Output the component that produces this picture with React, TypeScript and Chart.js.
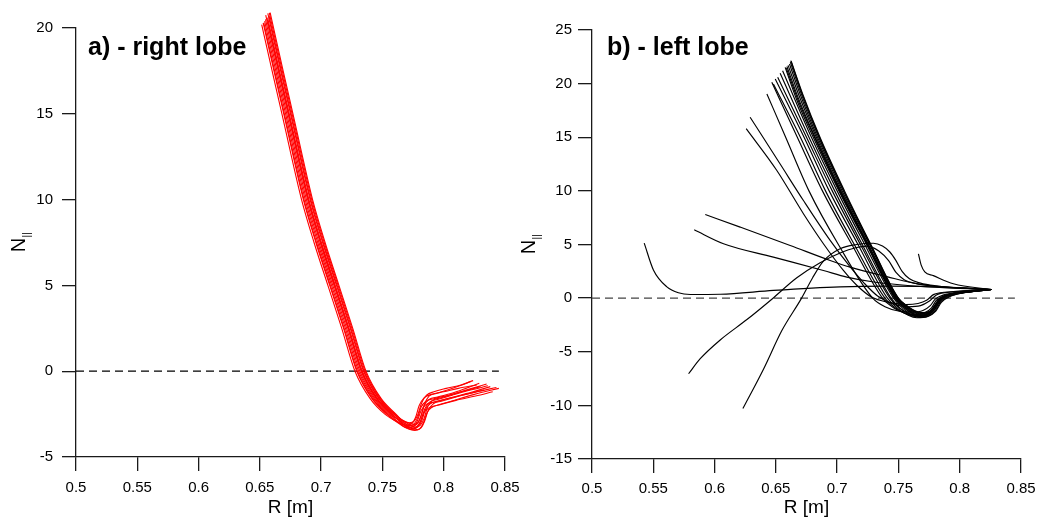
import React, { useEffect, useRef } from 'react';
import { Chart, registerables } from 'chart.js';

Chart.register(...registerables);

type Pt = [number, number];

// ---------- ticks ----------
const xTickValues = [0.5, 0.55, 0.6, 0.65, 0.7, 0.75, 0.8, 0.85];
const xTickLabels = ['0.5', '0.55', '0.6', '0.65', '0.7', '0.75', '0.8', '0.85'];
const leftYTickValues = [-5, 0, 5, 10, 15, 20];
const rightYTickValues = [-15, -10, -5, 0, 5, 10, 15, 20, 25];
const zeroLine: Pt[] = [[0.5, 0], [0.845, 0]];

// ---------- panel a) right lobe (red rays) ----------
const red01: Pt[] = [[0.6515,20.2],[0.660,17.5],[0.668,15],[0.6758,12.5],[0.684,10],[0.6942,7.5],[0.7055,5],[0.7168,2.5],[0.7276,0],[0.740,-1.6],[0.752,-2.5],[0.762,-2.95],[0.769,-3.15],[0.774,-3.05],[0.777,-2.7],[0.780,-2.0],[0.784,-1.55],[0.790,-1.35],[0.800,-1.2],[0.812,-1.0],[0.827,-0.8]];
const red02: Pt[] = [[0.6527,20.3],[0.6615,17.5],[0.6695,15],[0.6773,12.5],[0.6855,10],[0.6957,7.5],[0.707,5],[0.7183,2.5],[0.7291,0],[0.7415,-1.6],[0.7535,-2.5],[0.7635,-3.05],[0.7705,-3.3],[0.7755,-3.2],[0.7785,-2.9],[0.7815,-2.3],[0.7855,-1.95],[0.792,-1.8],[0.803,-1.6],[0.818,-1.35],[0.833,-1.1]];
const red03: Pt[] = [[0.6539,20.4],[0.663,17.5],[0.671,15],[0.6788,12.5],[0.687,10],[0.6972,7.5],[0.7085,5],[0.7198,2.5],[0.7306,0],[0.743,-1.6],[0.755,-2.5],[0.765,-2.85],[0.772,-3.0],[0.776,-2.9],[0.779,-2.5],[0.782,-1.85],[0.786,-1.4],[0.792,-1.2],[0.802,-1.0],[0.814,-0.8],[0.824,-0.55]];
const red04: Pt[] = [[0.6546,20.5],[0.664,17.5],[0.672,15],[0.6798,12.5],[0.688,10],[0.6982,7.5],[0.7095,5],[0.7208,2.5],[0.7316,0],[0.744,-1.6],[0.756,-2.5],[0.766,-3.15],[0.773,-3.4],[0.7775,-3.3],[0.7805,-3.0],[0.7835,-2.45],[0.7875,-2.15],[0.794,-2.0],[0.806,-1.75],[0.825,-1.35],[0.845,-1.0]];
const red05: Pt[] = [[0.6548,20.75],[0.665,17.5],[0.673,15],[0.6808,12.5],[0.689,10],[0.6992,7.5],[0.7105,5],[0.7218,2.5],[0.7326,0],[0.745,-1.6],[0.757,-2.5],[0.767,-3.0],[0.774,-3.2],[0.778,-3.1],[0.781,-2.7],[0.784,-2.0],[0.788,-1.65],[0.795,-1.5],[0.806,-1.3],[0.818,-1.0],[0.829,-0.7]];
const red06: Pt[] = [[0.6563,20.6],[0.666,17.5],[0.674,15],[0.6818,12.5],[0.690,10],[0.7002,7.5],[0.7115,5],[0.7228,2.5],[0.7336,0],[0.746,-1.6],[0.758,-2.5],[0.768,-3.15],[0.775,-3.35],[0.779,-3.25],[0.782,-2.9],[0.785,-2.25],[0.789,-1.9],[0.796,-1.75],[0.808,-1.5],[0.824,-1.2],[0.838,-0.9]];
const red07: Pt[] = [[0.6565,20.85],[0.667,17.5],[0.675,15],[0.6828,12.5],[0.691,10],[0.7012,7.5],[0.7125,5],[0.7238,2.5],[0.7346,0],[0.747,-1.6],[0.759,-2.5],[0.769,-2.95],[0.776,-3.1],[0.779,-3.0],[0.7815,-2.6],[0.7845,-1.9],[0.788,-1.45],[0.794,-1.3],[0.803,-1.1],[0.813,-0.85],[0.822,-0.6]];
const red08: Pt[] = [[0.6575,20.7],[0.6675,17.5],[0.6755,15],[0.6833,12.5],[0.6915,10],[0.7017,7.5],[0.713,5],[0.7243,2.5],[0.7351,0],[0.7475,-1.6],[0.7595,-2.5],[0.7695,-3.25],[0.7765,-3.45],[0.7805,-3.35],[0.7835,-3.0],[0.7865,-2.4],[0.7905,-2.1],[0.797,-1.95],[0.810,-1.7],[0.826,-1.45],[0.840,-1.2]];
const red09: Pt[] = [[0.6577,20.88],[0.6683,17.5],[0.6763,15],[0.6841,12.5],[0.6923,10],[0.7025,7.5],[0.7138,5],[0.7251,2.5],[0.7359,0],[0.7483,-1.6],[0.7603,-2.5],[0.7703,-3.05],[0.7773,-3.25],[0.781,-3.15],[0.784,-2.75],[0.787,-2.05],[0.791,-1.7],[0.798,-1.55],[0.809,-1.3],[0.823,-1.0],[0.835,-0.75]];
const red10: Pt[] = [[0.6584,20.9],[0.669,17.5],[0.677,15],[0.6848,12.5],[0.693,10],[0.7032,7.5],[0.7145,5],[0.7258,2.5],[0.7366,0],[0.749,-1.6],[0.761,-2.5],[0.771,-3.2],[0.778,-3.4],[0.7815,-3.3],[0.7845,-2.9],[0.7875,-2.25],[0.7915,-1.9],[0.798,-1.75],[0.810,-1.5],[0.827,-1.2],[0.843,-0.95]];
const red11: Pt[] = [[0.6532,20.3],[0.662,17.5],[0.670,15],[0.6778,12.5],[0.686,10],[0.6962,7.5],[0.7075,5],[0.7188,2.5],[0.7296,0],[0.742,-1.6],[0.754,-2.5],[0.764,-3.0],[0.771,-3.2],[0.7755,-3.1],[0.7785,-2.75],[0.7815,-2.1],[0.7855,-1.75],[0.792,-1.6],[0.804,-1.4],[0.817,-1.15],[0.830,-0.9]];
const red12: Pt[] = [[0.6561,20.5],[0.6655,17.5],[0.6735,15],[0.6813,12.5],[0.6895,10],[0.6997,7.5],[0.711,5],[0.7223,2.5],[0.7331,0],[0.7455,-1.6],[0.7575,-2.5],[0.7675,-3.1],[0.7745,-3.3],[0.7785,-3.2],[0.7815,-2.85],[0.7845,-2.2],[0.7885,-1.8],[0.795,-1.65],[0.807,-1.4],[0.822,-1.1],[0.836,-0.85]];
const rightLobeRays = [red01, red02, red03, red04, red05, red06, red07, red08, red09, red10, red11, red12];

// ---------- panel b) left lobe (black rays) ----------
const blk01: Pt[] = [[0.6625,22.1],[0.672,19],[0.686,15],[0.706,10],[0.7275,5],[0.750,0],[0.758,-0.8],[0.764,-1.2],[0.770,-1.35],[0.776,-1.2],[0.780,-0.7],[0.784,-0.05],[0.790,0.3],[0.805,0.6],[0.826,0.8]];
const blk02: Pt[] = [[0.6611,21.83],[0.6705,18.8],[0.684,15],[0.704,10],[0.7265,5],[0.749,0],[0.757,-0.85],[0.763,-1.3],[0.769,-1.5],[0.775,-1.35],[0.7795,-0.8],[0.7835,-0.1],[0.790,0.3],[0.805,0.6],[0.826,0.8]];
const blk03: Pt[] = [[0.659,21.6],[0.6685,18.6],[0.682,15],[0.7025,10],[0.725,5],[0.748,0],[0.756,-0.9],[0.762,-1.4],[0.768,-1.6],[0.7745,-1.45],[0.779,-0.9],[0.783,-0.2],[0.789,0.25],[0.805,0.58],[0.826,0.8]];
const blk04: Pt[] = [[0.6576,21.52],[0.667,18.5],[0.6805,15],[0.7015,10],[0.724,5],[0.747,0],[0.755,-0.95],[0.762,-1.5],[0.768,-1.7],[0.775,-1.55],[0.780,-1.0],[0.784,-0.3],[0.790,0.2],[0.805,0.55],[0.826,0.8]];
const blk05: Pt[] = [[0.6555,21.2],[0.679,15],[0.700,10],[0.7225,5],[0.746,0],[0.754,-1.0],[0.761,-1.55],[0.767,-1.8],[0.775,-1.65],[0.7805,-1.1],[0.7845,-0.35],[0.791,0.15],[0.806,0.55],[0.826,0.8]];
const blk06: Pt[] = [[0.6535,20.96],[0.677,15],[0.698,10],[0.7205,5],[0.744,0],[0.752,-1.0],[0.760,-1.55],[0.766,-1.75],[0.774,-1.6],[0.7795,-1.05],[0.7835,-0.3],[0.790,0.2],[0.805,0.55],[0.826,0.8]];
const blk07: Pt[] = [[0.6515,20.6],[0.675,15],[0.696,10],[0.719,5],[0.743,0],[0.751,-0.95],[0.759,-1.45],[0.766,-1.65],[0.773,-1.5],[0.778,-0.95],[0.782,-0.25],[0.789,0.25],[0.805,0.6],[0.826,0.8]];
const blk08: Pt[] = [[0.6495,20.43],[0.673,15],[0.6935,10],[0.717,5],[0.741,0],[0.750,-1.0],[0.758,-1.6],[0.765,-1.83],[0.774,-1.7],[0.7805,-1.2],[0.785,-0.4],[0.792,0.15],[0.806,0.55],[0.826,0.8]];
const blk09: Pt[] = [[0.648,19.97],[0.670,15],[0.6905,10],[0.714,5],[0.739,0],[0.748,-0.95],[0.757,-1.5],[0.764,-1.7],[0.772,-1.55],[0.778,-1.0],[0.782,-0.3],[0.789,0.2],[0.805,0.55],[0.826,0.8]];
const blk10: Pt[] = [[0.6467,20.12],[0.6675,15],[0.688,10],[0.712,5],[0.737,0],[0.746,-0.9],[0.755,-1.4],[0.763,-1.55],[0.771,-1.4],[0.777,-0.9],[0.781,-0.2],[0.788,0.25],[0.805,0.6],[0.826,0.8]];
const blk11: Pt[] = [[0.6427,19.04],[0.658,15],[0.677,10],[0.701,5],[0.729,0],[0.739,-0.8],[0.750,-1.2],[0.761,-1.3],[0.770,-1.15],[0.776,-0.7],[0.780,-0.1],[0.787,0.3],[0.805,0.6],[0.826,0.8]];
const blk12: Pt[] = [[0.6618,22.0],[0.6712,18.9],[0.685,15],[0.705,10],[0.727,5],[0.7495,0],[0.7575,-0.85],[0.7635,-1.25],[0.7695,-1.45],[0.7755,-1.3],[0.7795,-0.75],[0.7835,-0.1],[0.790,0.3],[0.805,0.6],[0.826,0.8]];
const blk13: Pt[] = [[0.660,21.7],[0.6695,18.7],[0.683,15],[0.703,10],[0.7255,5],[0.7485,0],[0.7565,-0.9],[0.7625,-1.35],[0.7685,-1.55],[0.775,-1.4],[0.7795,-0.85],[0.7835,-0.15],[0.790,0.28],[0.805,0.58],[0.826,0.8]];
const blk14: Pt[] = [[0.6622,22.14],[0.6716,19],[0.6855,15],[0.7055,10],[0.7272,5],[0.7498,0],[0.7578,-0.82],[0.7638,-1.22],[0.7698,-1.4],[0.7758,-1.25],[0.7798,-0.72],[0.7838,-0.08],[0.790,0.3],[0.805,0.6],[0.826,0.8]];
const blk15: Pt[] = [[0.6585,21.45],[0.668,18.5],[0.6815,15],[0.702,10],[0.7245,5],[0.7475,0],[0.7555,-0.95],[0.7620,-1.45],[0.768,-1.65],[0.7748,-1.5],[0.7798,-0.95],[0.7838,-0.25],[0.790,0.22],[0.805,0.56],[0.826,0.8]];
const blkHook: Pt[] = [[0.5426,5.13],[0.5502,2.6],[0.5611,1.05],[0.5705,0.5],[0.5801,0.34],[0.6046,0.36],[0.648,0.72],[0.7024,1.05],[0.740,1.12],[0.7676,1.1],[0.800,0.95],[0.826,0.8]];
const blkFlatUpper: Pt[] = [[0.5924,7.8],[0.6209,6.62],[0.6617,4.91],[0.6943,3.51],[0.7106,2.89],[0.7405,2.0],[0.7676,1.28],[0.800,0.95],[0.826,0.8]];
const blkFlatLower: Pt[] = [[0.5834,6.37],[0.6073,5.07],[0.648,3.82],[0.6888,2.58],[0.7079,1.96],[0.730,1.5],[0.760,1.15],[0.790,0.95],[0.826,0.8]];
const blkRiseA: Pt[] = [[0.5788,-7.05],[0.5883,-5.65],[0.6046,-3.9],[0.6264,-2.0],[0.6467,-0.1],[0.6671,1.9],[0.6861,3.3],[0.7024,4.2],[0.715,4.7],[0.724,4.85],[0.734,4.4],[0.742,3.5],[0.748,2.4],[0.755,1.7],[0.765,1.35],[0.780,1.1],[0.800,0.95],[0.826,0.8]];
const blkRiseB: Pt[] = [[0.6231,-10.3],[0.640,-6.6],[0.655,-3.0],[0.671,0],[0.680,1.9],[0.6888,3.45],[0.7024,4.6],[0.716,5.0],[0.7296,5.12],[0.737,4.85],[0.743,4.3],[0.748,3.5],[0.753,2.5],[0.759,1.8],[0.768,1.4],[0.780,1.15],[0.800,0.95],[0.826,0.8]];
const blkSteep17: Pt[] = [[0.629,16.87],[0.6535,12.5],[0.6725,9.1],[0.6943,5.38],[0.710,3.0],[0.722,1.4],[0.733,0.2],[0.745,-0.5],[0.758,-0.8],[0.768,-0.7],[0.775,-0.3],[0.781,0.3],[0.795,0.6],[0.826,0.8]];
const blkSteep16: Pt[] = [[0.6258,15.8],[0.6508,11.9],[0.6725,7.87],[0.6888,5.07],[0.7051,2.58],[0.716,1.2],[0.728,0.1],[0.742,-0.4],[0.756,-0.6],[0.766,-0.5],[0.773,-0.2],[0.779,0.35],[0.795,0.6],[0.826,0.8]];
const blkLate: Pt[] = [[0.7663,4.13],[0.7685,3.1],[0.7715,2.45],[0.7785,2.1],[0.7948,1.34],[0.826,0.8]];
const leftLobeRays = [blk01, blk02, blk03, blk04, blk05, blk06, blk07, blk08, blk09, blk10, blk11, blk12, blk13, blk14, blk15,
  blkHook, blkFlatUpper, blkFlatLower, blkRiseA, blkRiseB, blkSteep17, blkSteep16, blkLate];

const FONT = "'Liberation Sans', Arial, Helvetica, sans-serif";

interface PanelCfg {
  width: number;
  height: number;
  area: { left: number; right: number; top: number; bottom: number };
  yMin: number;
  yMax: number;
  yTicks: number[];
  rays: Pt[][];
  rayColor: string;
  rayWidth: number;
  dashColor: string;
  title: string;
  titleX: number;
  titleY: number;
  yTitleX: number;
  xTitleY: number;
  yTickPadding: number;
  xTickPadding: number;
}

function toXY(pts: Pt[]) {
  return pts.map(([x, y]) => ({ x, y }));
}

function buildChart(canvas: HTMLCanvasElement, cfg: PanelCfg) {
  const axisColor = '#1a1a1a';
  const textPlugin = {
    id: 'panelText',
    afterDraw(chart: any) {
      const ctx = chart.ctx as CanvasRenderingContext2D;
      const a = chart.chartArea;
      ctx.save();
      ctx.fillStyle = '#000';
      ctx.textBaseline = 'middle';
      ctx.textAlign = 'left';
      ctx.font = `bold 25px ${FONT}`;
      ctx.fillText(cfg.title, cfg.titleX, cfg.titleY);
      ctx.font = `19px ${FONT}`;
      ctx.textAlign = 'center';
      ctx.fillText('R [m]', (a.left + a.right) / 2, cfg.xTitleY);
      ctx.translate(cfg.yTitleX, (a.top + a.bottom) / 2);
      ctx.rotate(-Math.PI / 2);
      ctx.textAlign = 'left';
      ctx.textBaseline = 'alphabetic';
      ctx.font = `20px ${FONT}`;
      const wN = ctx.measureText('N').width;
      ctx.font = `10px ${FONT}`;
      const wS = ctx.measureText('||').width;
      const start = -(wN + wS) / 2;
      ctx.font = `20px ${FONT}`;
      ctx.fillText('N', start, 7.2);
      ctx.font = `10px ${FONT}`;
      ctx.fillText('||', start + wN + 0.5, 12);
      ctx.restore();
    },
  };

  const datasets: any[] = cfg.rays.map((r) => ({
    data: toXY(r),
    borderColor: cfg.rayColor,
    borderWidth: cfg.rayWidth,
    pointRadius: 0,
    fill: false,
    cubicInterpolationMode: 'monotone',
    clip: false,
  }));
  datasets.push({
    data: toXY(zeroLine),
    borderColor: cfg.dashColor,
    borderWidth: 1.2,
    borderDash: [8, 5],
    pointRadius: 0,
    fill: false,
    clip: false,
  });

  return new Chart(canvas, {
    type: 'line',
    data: { datasets },
    options: {
      responsive: false,
      animation: false,
      events: [],
      layout: {
        padding: { left: 0, top: cfg.area.top, right: cfg.width - cfg.area.right, bottom: 0 },
      },
      plugins: {
        legend: { display: false },
        tooltip: { enabled: false },
        title: { display: false },
      },
      scales: {
        x: {
          type: 'linear',
          min: 0.5,
          max: 0.85,
          afterBuildTicks: (s: any) => {
            s.ticks = xTickValues.map((v) => ({ value: v }));
          },
          afterFit: (s: any) => {
            s.height = cfg.height - cfg.area.bottom;
            s.paddingLeft = 0;
            s.paddingRight = 0;
          },
          ticks: {
            autoSkip: false,
            maxRotation: 0,
            padding: cfg.xTickPadding,
            color: '#000',
            font: { family: FONT, size: 15 },
            callback: (v: any) => {
              const i = xTickValues.findIndex((t) => Math.abs(t - Number(v)) < 1e-9);
              return i >= 0 ? xTickLabels[i] : '';
            },
          },
          grid: {
            display: true,
            drawOnChartArea: false,
            drawTicks: true,
            tickLength: 14,
            color: axisColor,
            lineWidth: 1.3,
          },
          border: { display: true, color: axisColor, width: 1.3 },
        },
        y: {
          type: 'linear',
          min: cfg.yMin,
          max: cfg.yMax,
          afterBuildTicks: (s: any) => {
            s.ticks = cfg.yTicks.map((v) => ({ value: v }));
          },
          afterFit: (s: any) => {
            s.width = cfg.area.left;
            s.paddingTop = 0;
            s.paddingBottom = 0;
          },
          ticks: {
            autoSkip: false,
            padding: cfg.yTickPadding,
            color: '#000',
            font: { family: FONT, size: 15 },
            callback: (v: any) => String(v),
          },
          grid: {
            display: true,
            drawOnChartArea: false,
            drawTicks: true,
            tickLength: 14,
            color: axisColor,
            lineWidth: 1.3,
          },
          border: { display: true, color: axisColor, width: 1.3 },
        },
      },
    } as any,
    plugins: [textPlugin],
  });
}

const leftCfg: PanelCfg = {
  width: 520,
  height: 519,
  area: { left: 76, right: 505, top: 28, bottom: 457 },
  yMin: -5,
  yMax: 20,
  yTicks: leftYTickValues,
  rays: rightLobeRays,
  rayColor: '#ff0000',
  rayWidth: 1.1,
  dashColor: '#000000',
  title: 'a) - right lobe',
  titleX: 88,
  titleY: 48,
  yTitleX: 18,
  xTitleY: 508,
  yTickPadding: 9,
  xTickPadding: 8,
};

const rightCfg: PanelCfg = {
  width: 518,
  height: 519,
  area: { left: 72, right: 501, top: 30, bottom: 459 },
  yMin: -15,
  yMax: 25,
  yTicks: rightYTickValues,
  rays: leftLobeRays,
  rayColor: '#000000',
  rayWidth: 1.15,
  dashColor: '#444444',
  title: 'b) - left lobe',
  titleX: 87,
  titleY: 48,
  yTitleX: 8,
  xTitleY: 508,
  yTickPadding: 6,
  xTickPadding: 7,
};

export default function App() {
  const leftRef = useRef<HTMLCanvasElement>(null);
  const rightRef = useRef<HTMLCanvasElement>(null);

  useEffect(() => {
    const charts: Chart[] = [];
    if (leftRef.current) charts.push(buildChart(leftRef.current, leftCfg));
    if (rightRef.current) charts.push(buildChart(rightRef.current, rightCfg));
    return () => {
      charts.forEach((c) => c.destroy());
    };
  }, []);

  return (
    <div style={{ position: 'absolute', left: 0, top: 0, width: 1038, height: 519, background: '#fff' }}>
      <canvas
        ref={leftRef}
        width={520}
        height={519}
        style={{ position: 'absolute', left: 0, top: 0, width: 520, height: 519 }}
      />
      <canvas
        ref={rightRef}
        width={518}
        height={519}
        style={{ position: 'absolute', left: 520, top: 0, width: 518, height: 519 }}
      />
    </div>
  );
}
